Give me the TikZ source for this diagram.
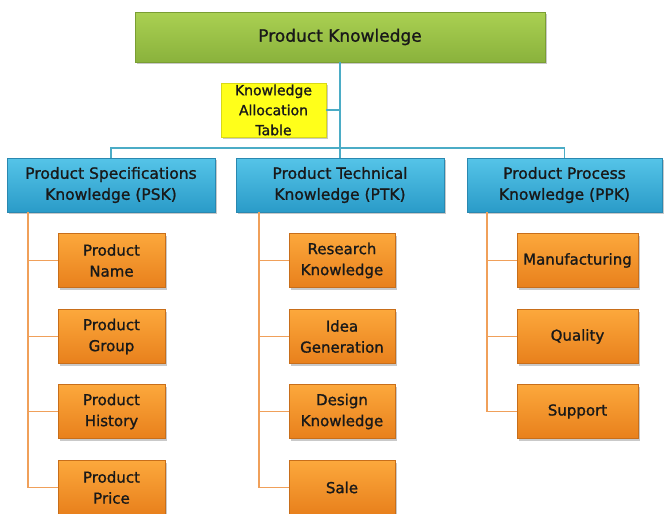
\documentclass[tikz,border=0pt]{standalone}
\usepackage{fontspec}
\setmainfont{DejaVu Sans}[AutoFakeBold=1.2]
\usetikzlibrary{shadows}
\definecolor{gtop}{HTML}{AAD052}
\definecolor{gbot}{HTML}{8AB23C}
\definecolor{gbrd}{HTML}{7A9E33}
\definecolor{btop}{HTML}{55C4E8}
\definecolor{bbot}{HTML}{2A9BC8}
\definecolor{bbrd}{HTML}{2A88B0}
\definecolor{otop}{HTML}{FCA83C}
\definecolor{obot}{HTML}{E8801C}
\definecolor{obrd}{HTML}{C86E1A}
\definecolor{ylw}{HTML}{FFFF1A}
\definecolor{blin}{HTML}{4BACC6}
\definecolor{olin}{HTML}{F0A05A}
\tikzset{
  box/.style={draw, line width=0.8pt, rectangle, align=center, inner sep=0pt,
    text=black!90,
    drop shadow={shadow xshift=1.5pt, shadow yshift=-2pt, opacity=0.3, fill=black!70}},
  gbox/.style={box, top color=gtop, bottom color=gbot, draw=gbrd, font=\fontsize{17}{20}\selectfont\bfseries},
  ybox/.style={box, fill=ylw, draw=ylw!85!black, font=\fontsize{14}{20}\selectfont\bfseries},
  bbox/.style={box, top color=btop, bottom color=bbot, draw=bbrd, font=\fontsize{15.5}{21}\selectfont\bfseries},
  obox/.style={box, top color=otop, bottom color=obot, draw=obrd, font=\fontsize{15}{21}\selectfont\bfseries},
  bline/.style={draw=blin, line width=1.5pt},
  oline/.style={draw=olin, line width=1.5pt}
}
\begin{document}
\begin{tikzpicture}[x=1pt,y=-1pt]
\useasboundingbox (0,0) rectangle (665,514);
\clip (0,0) rectangle (665,514);
% top
\node[gbox, minimum width=410pt, minimum height=50pt] (title) at (340,37) {Product Knowledge};
\node[ybox, minimum width=105pt, minimum height=54pt] (kat) at (273.5,110) {Knowledge\\Allocation\\Table};
\coordinate (busc) at (340,148);
% level 2
\node[bbox, minimum width=208pt, minimum height=54pt] (psk) at (111,185) {Product Specifications\\Knowledge (PSK)};
\node[bbox, minimum width=208pt, minimum height=54pt] (ptk) at (340,185) {Product Technical\\Knowledge (PTK)};
\node[bbox, minimum width=195pt, minimum height=54pt] (ppk) at (564.5,185) {Product Process\\Knowledge (PPK)};
% level 3 PSK
\node[obox, minimum width=107pt, minimum height=54pt] (s1) at (111.5,260.5) {Product\\Name};
\node[obox, minimum width=107pt, minimum height=54pt] (s2) at (111.5,336.5) {Product\\Group};
\node[obox, minimum width=107pt, minimum height=54pt] (s3) at (111.5,411.5) {Product\\History};
\node[obox, minimum width=107pt, minimum height=54pt] (s4) at (111.5,487.5) {Product\\Price};
% level 3 PTK
\node[obox, minimum width=106pt, minimum height=54pt] (t1) at (342,260.5) {Research\\Knowledge};
\node[obox, minimum width=106pt, minimum height=54pt] (t2) at (342,336.5) {Idea\\Generation};
\node[obox, minimum width=106pt, minimum height=54pt] (t3) at (342,411.5) {Design\\Knowledge};
\node[obox, minimum width=106pt, minimum height=54pt] (t4) at (342,487.5) {Sale};
% level 3 PPK
\node[obox, minimum width=121pt, minimum height=54pt] (p1) at (577.5,260.5) {Manufacturing};
\node[obox, minimum width=121pt, minimum height=54pt] (p2) at (577.5,336.5) {Quality};
\node[obox, minimum width=121pt, minimum height=54pt] (p3) at (577.5,411.5) {Support};
% blue connectors
\draw[bline] (title.south) -- (busc);
\draw[bline] (kat.east) -- (kat.east -| busc);
\draw[bline] (psk.north) |- (busc) -| (ppk.north);
\draw[bline] (busc) -- (ptk.north);
% orange connectors
\coordinate (sv) at (28,212);
\coordinate (tv) at (259,212);
\coordinate (pv) at (487,212);
\draw[oline] (sv) |- (s4.west);
\draw[oline] (sv |- s1) -- (s1.west);
\draw[oline] (sv |- s2) -- (s2.west);
\draw[oline] (sv |- s3) -- (s3.west);
\draw[oline] (tv) |- (t4.west);
\draw[oline] (tv |- t1) -- (t1.west);
\draw[oline] (tv |- t2) -- (t2.west);
\draw[oline] (tv |- t3) -- (t3.west);
\draw[oline] (pv) |- (p3.west);
\draw[oline] (pv |- p1) -- (p1.west);
\draw[oline] (pv |- p2) -- (p2.west);
\end{tikzpicture}
\end{document}
